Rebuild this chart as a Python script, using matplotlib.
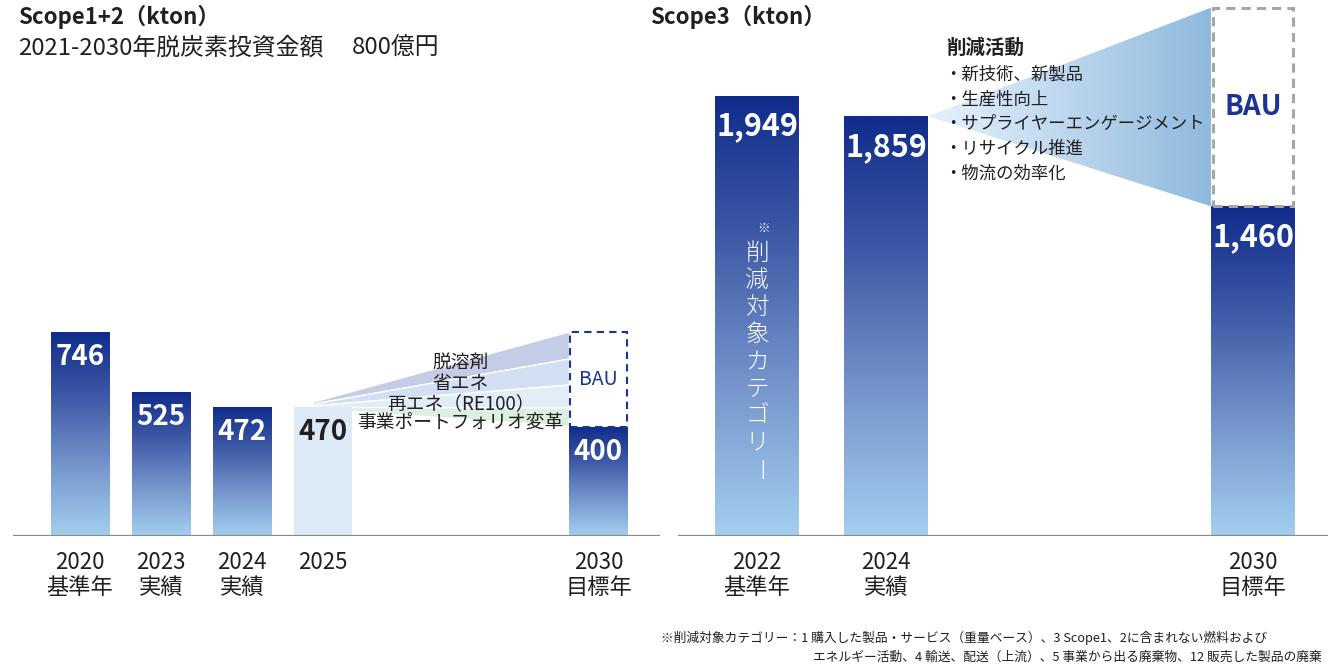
import numpy as np
import matplotlib
matplotlib.use("Agg")
import matplotlib.pyplot as plt
from matplotlib.colors import LinearSegmentedColormap
from matplotlib.patches import Polygon, Rectangle

plt.rcParams['font.family'] = ['Noto Sans CJK JP', 'DejaVu Sans']

# ---- Scope1+2 data (kton) ----
s12_labels = ["2020\n基準年", "2023\n実績", "2024\n実績", "2025", "2030\n目標年"]
s12_values = [746, 525, 472, 470, 400]
s12_bau = 746
s12_layers = ["脱溶剤", "省エネ", "再エネ（RE100）", "事業ポートフォリオ変革"]
s12_layer_edges = [746, 647, 552, 468, 400]   # band edges at 2030, top to bottom
s12_layer_colors = ["#c4cce6", "#d3dff2", "#e3edf8", "#dcefe3"]

# ---- Scope3 data (kton) ----
s3_labels = ["2022\n基準年", "2024\n実績", "2030\n目標年"]
s3_values = [1949, 1859, 1460]
s3_bau = 2340
s3_actions = ["新技術、新製品", "生産性向上", "サプライヤーエンゲージメント",
              "リサイクル推進", "物流の効率化"]
s3_category_text = "削減対象カテゴリー"

footnote_1 = "※削減対象カテゴリー：1 購入した製品・サービス（重量ベース）、3 Scope1、2に含まれない燃料および"
footnote_2 = "エネルギー活動、4 輸送、配送（上流）、5 事業から出る廃棄物、12 販売した製品の廃棄"

TEXT = "#231f20"
NAVY = "#1a3594"

W, H = 1328, 668
fig = plt.figure(figsize=(W / 100, H / 100), dpi=100)
fig.patch.set_facecolor("white")


def fx(px):
    return px / W


def fy(py):
    return 1 - py / H


bar_cmap = LinearSegmentedColormap.from_list(
    "bar", [(0.0, "#a3cfef"), (0.35, "#7494cb"), (0.7, "#3b56a4"), (1.0, "#0f2c8b")])
wedge_cmap = LinearSegmentedColormap.from_list("wedge", ["#e6f2fc", "#bcd6ee", "#8fbadd"])


def gradient_bar(ax, x, h, w):
    rect = Rectangle((x - w / 2, 0), w, h, facecolor="none", edgecolor="none")
    ax.add_patch(rect)
    grad = np.linspace(0, 1, 256).reshape(-1, 1)
    im = ax.imshow(grad, cmap=bar_cmap, origin="lower", aspect="auto",
                   extent=(x - w / 2, x + w / 2, 0, h), zorder=2, interpolation="bilinear")
    im.set_clip_path(rect)


# ================= Scope1+2 =================
ax1 = fig.add_axes([fx(13), 1 - 536 / H, 647 / W, 536 / H])
pos1 = [0, 1, 2, 3, 6.4]
w1 = 0.716

# reduction bands fanning from 2025 to the 2030 BAU box
apex_x = pos1[3] - w1 / 2
right_x = pos1[4] - w1 / 2
for i, (name, col) in enumerate(zip(s12_layers, s12_layer_colors)):
    up, lo = s12_layer_edges[i], s12_layer_edges[i + 1]
    ax1.add_patch(Polygon([(apex_x, s12_values[3]), (right_x, up), (right_x, lo)],
                          closed=True, facecolor=col, edgecolor="white", lw=1.0, zorder=1))

for i, (x, v) in enumerate(zip(pos1, s12_values)):
    if i == 3:
        ax1.add_patch(Rectangle((x - w1 / 2, 0), w1, v, facecolor="#dceaf7",
                                edgecolor="none", zorder=2))
        col = TEXT
    else:
        gradient_bar(ax1, x, v, w1)
        col = "white"
    ax1.annotate(f"{v:,}", (x, v), xytext=(0, -18), textcoords="offset points",
                 ha="center", va="center", fontsize=20, fontweight="bold", color=col, zorder=4)

# BAU box for 2030
ax1.add_patch(Rectangle((pos1[4] - w1 / 2 + 0.01, s12_values[4]), w1 - 0.02, s12_bau - s12_values[4],
                        facecolor="white", edgecolor=NAVY, lw=1.5,
                        linestyle=(0, (3.5, 2.5)), zorder=3))
ax1.text(pos1[4], (s12_bau + s12_values[4]) / 2, "BAU", ha="center", va="center",
         fontsize=14, color=NAVY, zorder=4)

# band labels
label_x = 4.7
label_y = [636, 559, 483, 413]
for name, yv in zip(s12_layers, label_y):
    ax1.text(label_x, yv, name, ha="center", va="center", fontsize=13.5, color=TEXT, zorder=4)

ax1.axhline(0, color="#8a8a8a", lw=1.6, zorder=5)
ax1.set_xlim(-0.827, 7.16)
ax1.set_ylim(0, 536 / 0.2735)
ax1.set_xticks(pos1, s12_labels)
ax1.tick_params(axis="x", length=0, pad=11, labelsize=16, labelcolor=TEXT)
ax1.set_yticks([])
for s in ax1.spines.values():
    s.set_visible(False)
for t in ax1.get_xticklabels():
    t.set_linespacing(1.1)
    t.set_va("top")

# ================= Scope3 =================
ax2 = fig.add_axes([fx(678), 1 - 536 / H, 650 / W, 536 / H])
pos2 = [0, 1, 3.845]
w2 = 0.651

# widening wedge from 2024 to the 2030 BAU box
wx0 = pos2[1] + w2 / 2
wx1 = pos2[2] - w2 / 2
wedge = Polygon([(wx0, s3_values[1]), (wx1, s3_bau), (wx1, s3_values[2])], closed=True,
                facecolor="none", edgecolor="none")
ax2.add_patch(wedge)
hgrad = np.linspace(0, 1, 256).reshape(1, -1)
im = ax2.imshow(hgrad, cmap=wedge_cmap, aspect="auto", origin="lower",
                extent=(wx0, wx1, s3_values[2], s3_bau), zorder=1, interpolation="bilinear")
im.set_clip_path(wedge)

for x, v in zip(pos2, s3_values):
    gradient_bar(ax2, x, v, w2)
    ax2.annotate(f"{v:,}", (x, v), xytext=(0, -22), textcoords="offset points",
                 ha="center", va="center", fontsize=22, fontweight="bold", color="white", zorder=4)

ax2.add_patch(Rectangle((pos2[2] - w2 / 2 + 0.015, s3_values[2]), w2 - 0.03, s3_bau - s3_values[2],
                        facecolor="none", edgecolor="#a6a6a6", lw=2.2,
                        linestyle=(0, (3, 2)), zorder=3))
ax2.text(pos2[2], (s3_bau + s3_values[2]) / 2, "BAU", ha="center", va="center",
         fontsize=20, fontweight="bold", color=NAVY, zorder=4)

ax2.axhline(0, color="#8a8a8a", lw=1.6, zorder=5)
ax2.set_xlim(-0.612, 4.426)
ax2.set_ylim(0, 536 / 0.2258)
ax2.set_xticks(pos2, s3_labels)
ax2.tick_params(axis="x", length=0, pad=11, labelsize=16, labelcolor=TEXT)
ax2.set_yticks([])
for s in ax2.spines.values():
    s.set_visible(False)
for t in ax2.get_xticklabels():
    t.set_linespacing(1.1)

# vertical caption inside the 2022 bar
fig.text(fx(764), fy(229), "※", ha="center", va="center", fontsize=9, color="white")
for k, ch in enumerate(s3_category_text):
    fig.text(fx(757), fy(253 + 27.2 * k), ch, ha="center", va="center", fontsize=17,
             color="white", rotation=(-90 if ch == "ー" else 0), fontweight="light")

# ================= titles and notes =================
fig.text(fx(18), fy(17), "Scope1+2（kton）", ha="left", va="center", fontsize=16,
         fontweight="bold", color=TEXT)
fig.text(fx(18), fy(48), "2021-2030年脱炭素投資金額", ha="left", va="center",
         fontsize=17.2, color=TEXT)
fig.text(fx(352), fy(48), "800億円", ha="left", va="center",
         fontsize=17.2, color=TEXT)
fig.text(fx(650), fy(17), "Scope3（kton）", ha="left", va="center", fontsize=16,
         fontweight="bold", color=TEXT)

fig.text(fx(946), fy(48), "削減活動", ha="left", va="center", fontsize=14,
         fontweight="bold", color=TEXT)
for k, a in enumerate(s3_actions):
    fig.text(fx(944), fy(75 + 24.7 * k), "・" + a, ha="left", va="center",
             fontsize=12.5, color=TEXT)

fig.text(fx(661), fy(638), footnote_1, ha="left", va="center", fontsize=9.2, color=TEXT)
fig.text(fx(813), fy(657), footnote_2, ha="left", va="center", fontsize=9.2, color=TEXT)

fig.savefig("out.png", dpi=100, facecolor="white")
